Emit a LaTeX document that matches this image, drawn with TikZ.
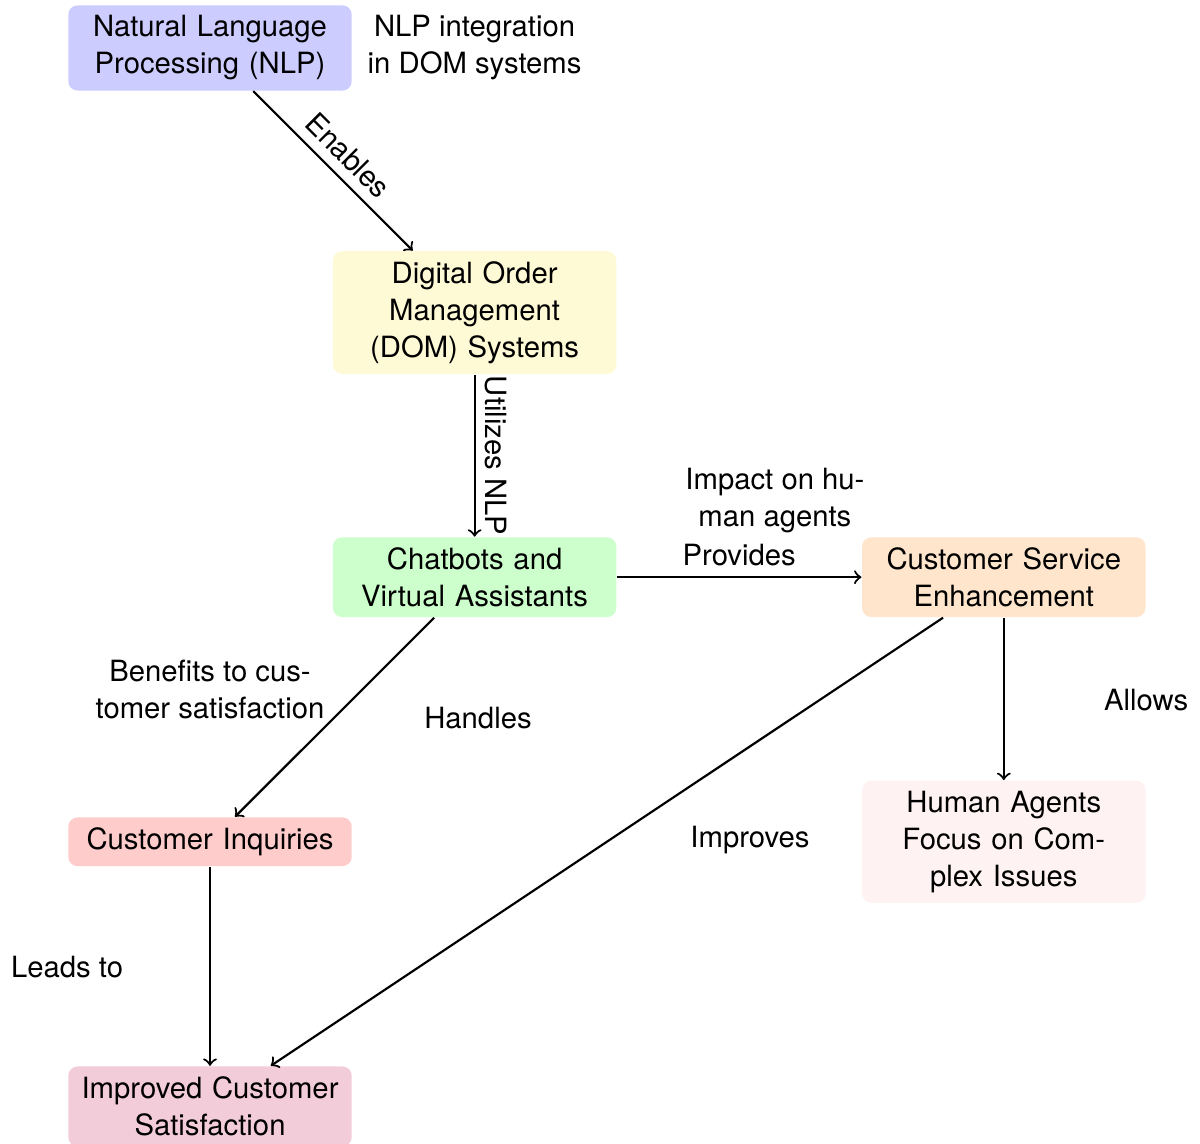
\documentclass[tikz,border=0pt]{standalone}
\usepackage{fontspec}
\setmainfont{TeX Gyre Heros}[Scale=0.95]
\definecolor{creamfill}{RGB}{255,250,214}

\begin{document}
\begin{tikzpicture}[
  x=85.9pt, y=85.9pt,
  box/.style={rectangle, rounded corners=3pt, text width=3cm, align=center, inner sep=3.33pt},
  lbl/.style={align=center, inner sep=3.33pt},
  arr/.style={->, line width=0.7pt, black}
]
% fixed frame of the page
\useasboundingbox (-68.18pt,-355.5pt) rectangle (321.4pt,15.58pt);

% process boxes
\node[box, fill=blue!20]    (nlp)  at (0,0)   {Natural Language\\Processing (NLP)};
\node[box, fill=creamfill]  (dom)  at (1,-1)  {Digital Order\\Management\\(DOM) Systems};
\node[box, fill=green!20]   (chat) at (1,-2)  {Chatbots and\\Virtual Assistants};
\node[box, fill=orange!20]  (cse)  at (3,-2)  {Customer Service\\Enhancement};
\node[box, fill=red!20]     (ci)   at (0,-3)  {Customer Inquiries};
\node[box, fill=pink!20]    (ha)   at (3,-3)  {Human Agents\\Focus on Com-\\plex Issues};
\node[box, fill=purple!20]  (ics)  at (0,-4)  {Improved Customer\\Satisfaction};

% connectors
\draw[arr] (nlp)  -- node[midway, above, sloped] (lenable) {Enables} (dom);
\draw[arr] (dom)  -- node[midway, above, sloped] (lutil) {Utilizes NLP} (chat);
\draw[arr] (chat) -- node[midway, above] (lprov) {Provides} (cse);
\draw[arr] (chat) -- (ci);
\draw[arr] (ci)   -- (ics);
\draw[arr] (cse)  -- (ha);
\draw[arr] (cse)  -- (ics);

% free annotations
\node[lbl] (tint)   at (1,0)              {NLP integration\\in DOM systems};
\node[lbl] (timp)   at (183.4pt,-146.8pt) {Impact on hu-\\man agents};
\node[lbl] (tben)   at (0pt,-208.4pt)     {Benefits to cus-\\tomer satisfaction};
\node[lbl] (thand)  at (87pt,-217.5pt)    {Handles};
\node[lbl] (tallow) at (303.9pt,-211.7pt) {Allows};
\node[lbl] (timpr)  at (175.3pt,-257.1pt) {Improves};
\node[lbl] (tlead)  at (-46.4pt,-298.4pt) {Leads to};
\end{tikzpicture}
\end{document}
